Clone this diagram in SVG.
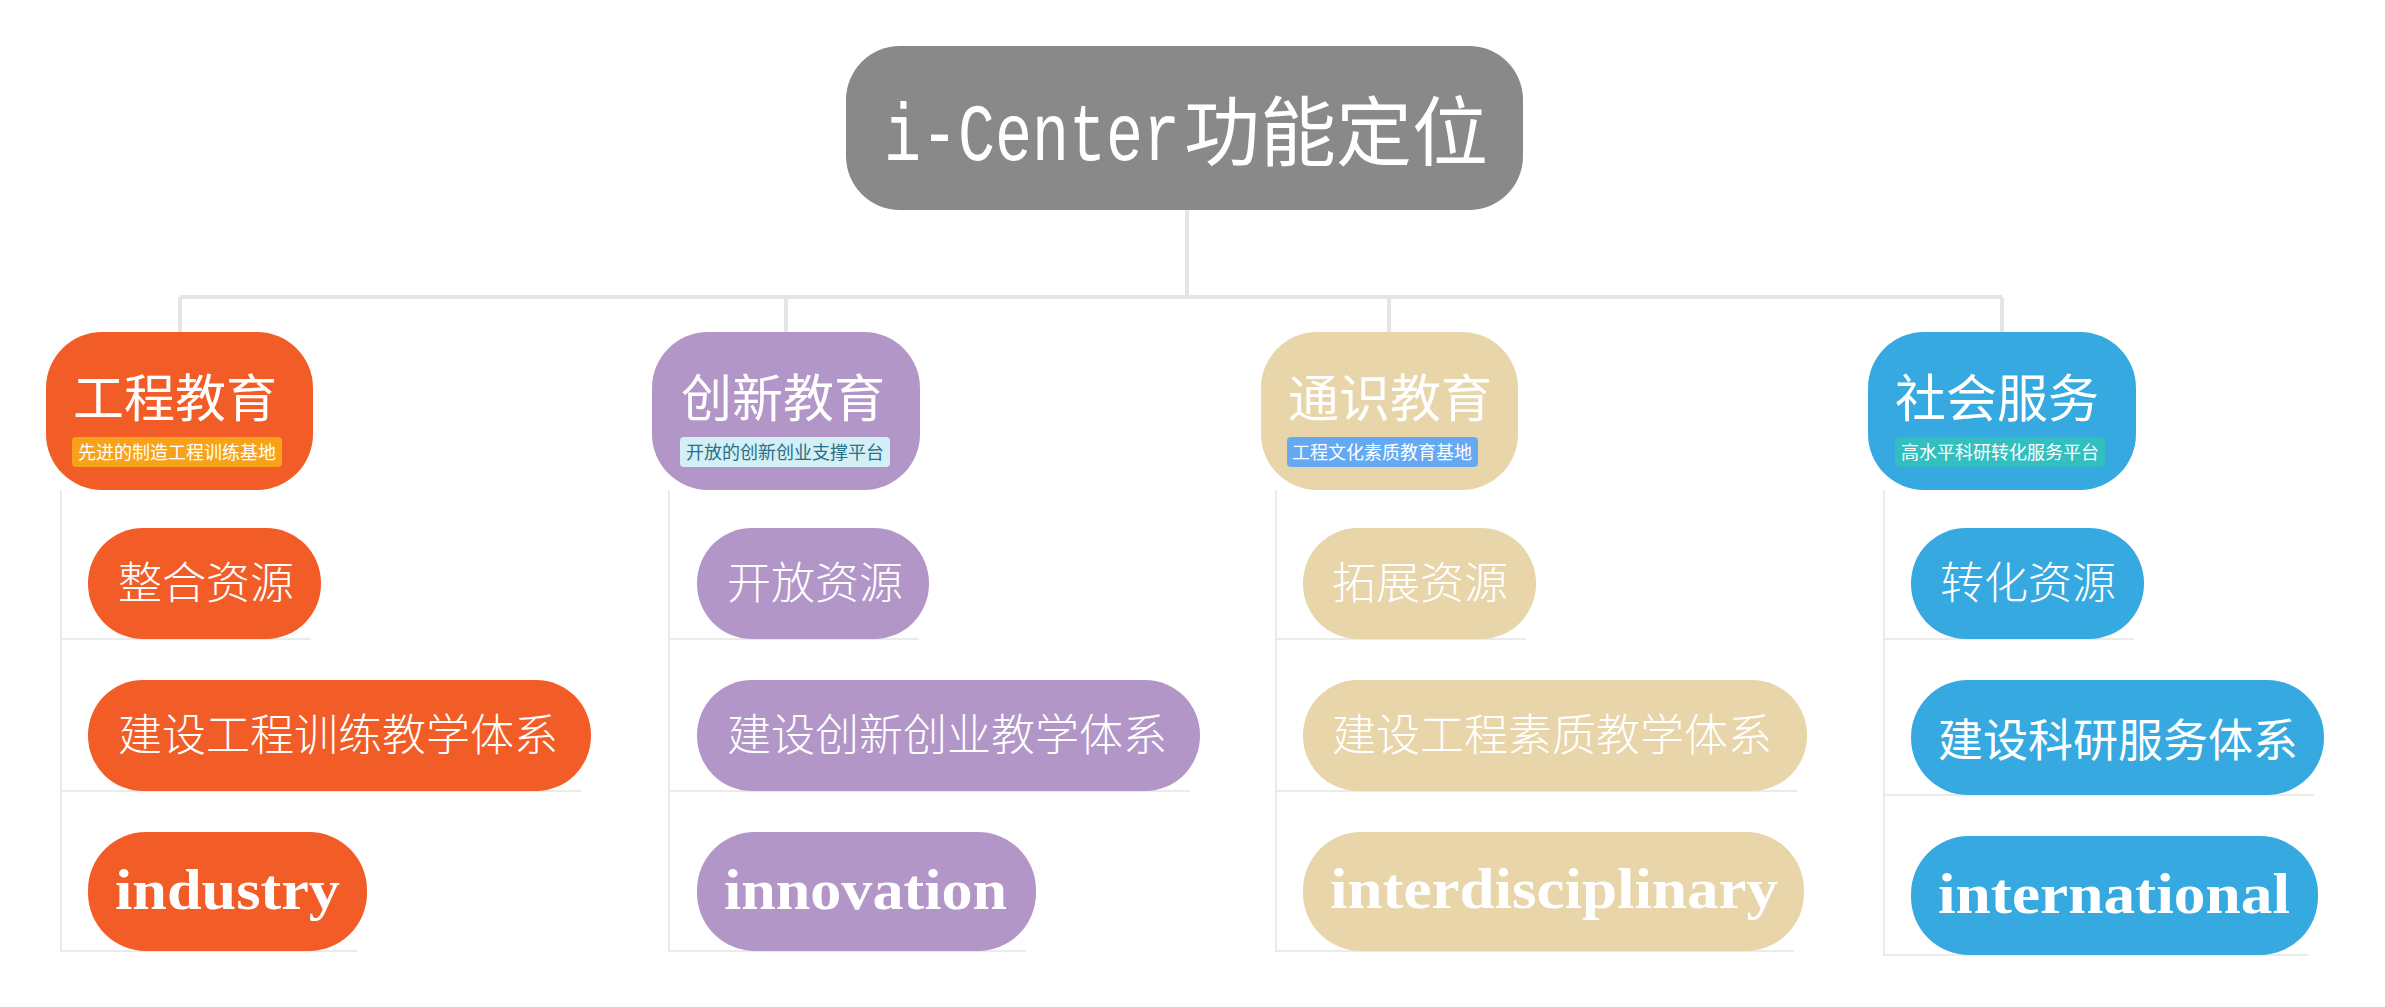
<svg xmlns="http://www.w3.org/2000/svg" width="2385" height="1007" viewBox="0 0 2385 1007">
<style>
.cjk{font-family:"Noto Sans CJK SC","Noto Sans",sans-serif;}
.main{stroke:#e5e5e5;stroke-width:4;fill:none;}
.sub{stroke:#ebebeb;stroke-width:2;fill:none;}
.title{font-family:"Noto Sans CJK SC","Noto Sans",sans-serif;font-size:51px;fill:#fff;}
.badge-t{font-family:"Noto Sans CJK SC","Noto Sans",sans-serif;font-size:18px;text-anchor:middle;}
.ct{font-family:"Noto Sans CJK SC","Noto Sans",sans-serif;font-size:44px;font-weight:300;fill:#fff;}
.ct2{font-family:"Noto Sans CJK SC","Noto Sans",sans-serif;font-size:45px;font-weight:400;fill:#fff;}
.lt{font-family:"Liberation Serif",serif;font-size:57px;font-weight:bold;fill:#fff;}
.orange{fill:#f25c26;}
.purple{fill:#b396c8;}
.beige{fill:#e8d5a9;}
.blue{fill:#35a9e0;}
</style>
<rect width="2385" height="1007" fill="#fff"/>
<g id="connectors">
<path class="main" d="M1187 210V297M180 297H2002M180 297V332M786 297V332M1389 297V332M2002 297V332"/>
<path class="sub" d="M61 490V952M61 639H311M61 791H581M61 951H357"/>
<path class="sub" d="M669 490V952M669 639H919M669 791H1190M669 951H1026"/>
<path class="sub" d="M1276 490V952M1276 639H1526M1276 791H1797M1276 951H1794"/>
<path class="sub" d="M1884 490V956M1884 639H2134M1884 795H2314M1884 955H2308"/>
</g>
<g id="root">
<rect x="846" y="46" width="677" height="164" rx="54" fill="#898989"/>
<text y="160" font-size="76" fill="#fff"><tspan x="884" font-size="82" font-family="Liberation Mono, monospace" textLength="296" lengthAdjust="spacingAndGlyphs">i-Center</tspan><tspan x="1184" font-family="Noto Sans CJK SC, sans-serif">功能定位</tspan></text>
</g>
<g id="b1">
<rect class="orange" x="46" y="332" width="267" height="158" rx="56"/>
<text class="title" x="73" y="417">工程教育</text>
<rect x="72" y="437" width="210" height="30" rx="4" fill="#f8a21b"/>
<text class="badge-t" x="177" y="459" fill="#fff">先进的制造工程训练基地</text>
</g>
<g id="b2">
<rect class="purple" x="652" y="332" width="268" height="158" rx="56"/>
<text class="title" x="681" y="417">创新教育</text>
<rect x="680" y="437" width="210" height="30" rx="4" fill="#d5eff6"/>
<text class="badge-t" x="785" y="459" fill="#27708a">开放的创新创业支撑平台</text>
</g>
<g id="b3">
<rect class="beige" x="1261" y="332" width="257" height="158" rx="56"/>
<text class="title" x="1288" y="417">通识教育</text>
<rect x="1287" y="437" width="191" height="30" rx="4" fill="#64a9f1"/>
<text class="badge-t" x="1382" y="459" fill="#fff">工程文化素质教育基地</text>
</g>
<g id="b4">
<rect class="blue" x="1868" y="332" width="268" height="158" rx="56"/>
<text class="title" x="1895" y="417">社会服务</text>
<rect x="1895" y="437" width="210" height="30" rx="4" fill="#33bfc0"/>
<text class="badge-t" x="2000" y="459" fill="#fff">高水平科研转化服务平台</text>
</g>
<g id="b1c1"><rect class="orange" x="88" y="528" width="233" height="111" rx="55"/><text class="ct" x="118" y="599">整合资源</text></g>
<g id="b1c2"><rect class="orange" x="88" y="680" width="503" height="111" rx="55"/><text class="ct" x="118" y="751">建设工程训练教学体系</text></g>
<g id="b1c3"><rect class="orange" x="88" y="832" width="279" height="119" rx="58"/><text class="lt" x="115" y="909" textLength="225" lengthAdjust="spacingAndGlyphs">industry</text></g>
<g id="b2c1"><rect class="purple" x="697" y="528" width="232" height="111" rx="55"/><text class="ct" x="727" y="599">开放资源</text></g>
<g id="b2c2"><rect class="purple" x="697" y="680" width="503" height="111" rx="55"/><text class="ct" x="727" y="751">建设创新创业教学体系</text></g>
<g id="b2c3"><rect class="purple" x="697" y="832" width="339" height="119" rx="58"/><text class="lt" x="724" y="909" textLength="283" lengthAdjust="spacingAndGlyphs">innovation</text></g>
<g id="b3c1"><rect class="beige" x="1303" y="528" width="233" height="111" rx="55"/><text class="ct" x="1332" y="599">拓展资源</text></g>
<g id="b3c2"><rect class="beige" x="1303" y="680" width="504" height="111" rx="55"/><text class="ct" x="1332" y="751">建设工程素质教学体系</text></g>
<g id="b3c3"><rect class="beige" x="1303" y="832" width="501" height="119" rx="58"/><text class="lt" x="1330" y="908" textLength="448" lengthAdjust="spacingAndGlyphs">interdisciplinary</text></g>
<g id="b4c1"><rect class="blue" x="1911" y="528" width="233" height="111" rx="55"/><text class="ct" x="1940" y="599">转化资源</text></g>
<g id="b4c2"><rect class="blue" x="1911" y="680" width="413" height="115" rx="57"/><text class="ct2" x="1938" y="757">建设科研服务体系</text></g>
<g id="b4c3"><rect class="blue" x="1911" y="836" width="407" height="119" rx="58"/><text class="lt" x="1938" y="913" textLength="352" lengthAdjust="spacingAndGlyphs">international</text></g>
</svg>
